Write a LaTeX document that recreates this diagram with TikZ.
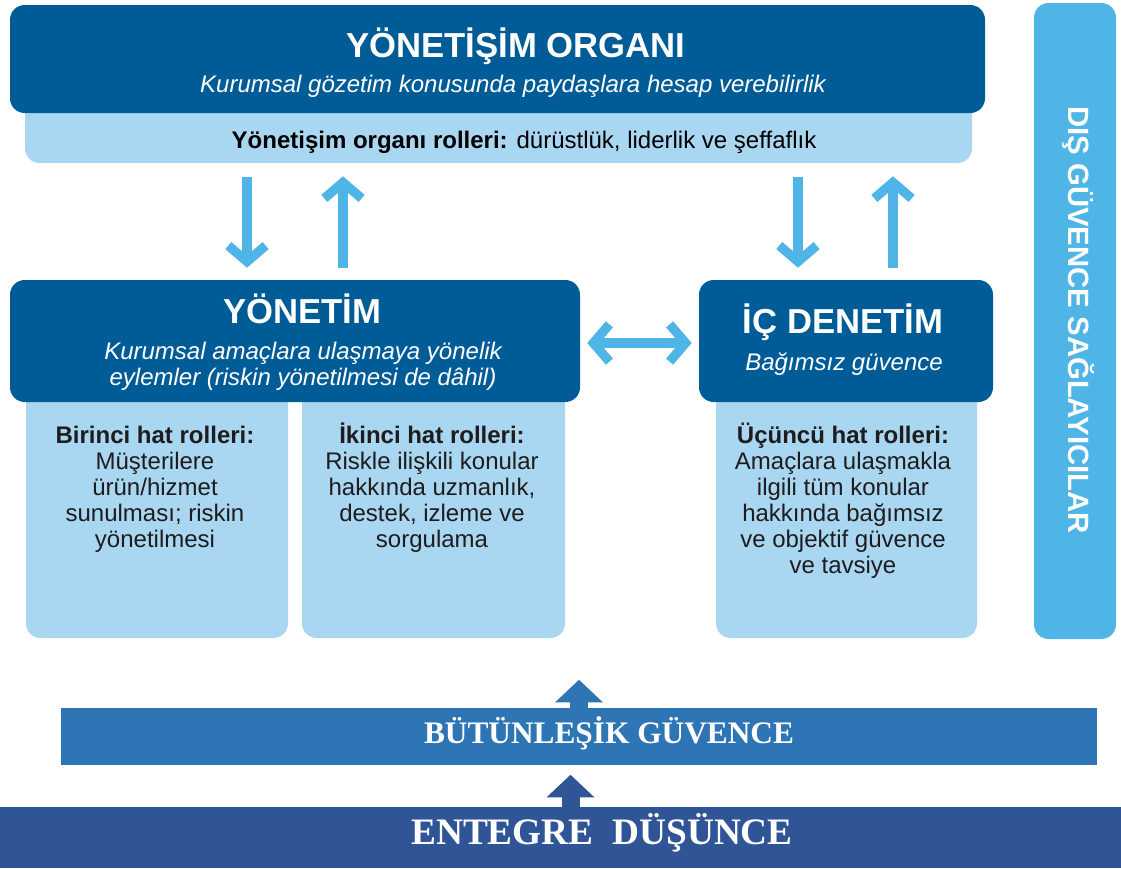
\documentclass[tikz,border=0pt]{standalone}
\usepackage{fontspec}
\setmainfont{Liberation Sans}
\newfontfamily\bandfont{Liberation Serif}
\usetikzlibrary{arrows.meta,calc}
\definecolor{orgblue}{RGB}{0,92,151}
\definecolor{paleblue}{RGB}{169,214,241}
\definecolor{skyblue}{RGB}{79,180,230}
\definecolor{midblue}{RGB}{46,117,182}
\definecolor{navyblue}{RGB}{47,85,151}
\definecolor{ink}{RGB}{30,28,28}
\begin{document}
\begin{tikzpicture}[x=0.75pt,y=-0.75pt,
    sz/.style 2 args={minimum width=#1*0.75pt,minimum height=#2*0.75pt,inner sep=0pt},
    darkbox/.style={fill=orgblue,rounded corners=11pt},
    palebox/.style={fill=paleblue,rounded corners=11pt},
    headline/.style={white,anchor=base,inner sep=0pt,font=\fontsize{26}{28}\selectfont\bfseries},
    subline/.style={white,anchor=base,inner sep=0pt,align=center,font=\fontsize{18}{19.5}\selectfont\itshape},
    roletext/.style={ink,anchor=base,inner sep=0pt,align=center,font=\fontsize{18}{19.5}\selectfont},
    flow/.style={draw=skyblue,line width=7.5pt,-{Straight Barb[length=12pt,width=28pt,line width=7pt]}},
    twoway/.style={draw=skyblue,line width=7.5pt,{Straight Barb[length=12pt,width=28pt,line width=7pt]}-{Straight Barb[length=12pt,width=28pt,line width=7pt]}},
    lift/.style={draw=#1,line width=13.5pt,-{Triangle[length=17pt,width=35pt]}}]
\useasboundingbox (0,0) rectangle (1121,868);

\node[palebox,sz={947}{73}] (band) at (498.5,126.5) {};
\node[darkbox,sz={975}{108}] (organ) at (497.5,59) {};
\node[palebox,sz={262}{258}] (first) at (157,509) {};
\node[palebox,sz={263}{258}] (second) at (433.5,509) {};
\node[palebox,sz={261}{258}] (third) at (846.5,509) {};
\node[darkbox,sz={570}{122}] (yon) at (295,341) {};
\node[darkbox,sz={294}{122}] (idn) at (846,341) {};
\node[fill=skyblue,rounded corners=11pt,sz={82}{636}] (dis) at (1075,321) {};
\node[fill=midblue,sz={1036}{57}] (butun) at (579,736.5) {};
\node[fill=navyblue,sz={1121}{61}] (ent) at (560.5,837.5) {};

\node[headline] (organT) at (516,57) {YÖNETİŞİM ORGANI};
\node[subline] (organS) at (513,92) {Kurumsal gözetim konusunda paydaşlara hesap verebilirlik};
\node[roletext,text=black] (bandT) at (524,148) {\textbf{Yönetişim organı rolleri:} dürüstlük, liderlik ve şeffaflık};
\node[headline] (yonT) at (302,323) {YÖNETİM};
\node[subline] (yonS) at (303,385) {Kurumsal amaçlara ulaşmaya yönelik\\eylemler (riskin yönetilmesi de dâhil)};
\node[headline] (idnT) at (843,333) {İÇ DENETİM};
\node[subline] (idnS) at (844,370) {Bağımsız güvence};
\node[roletext] (firstT) at (155,547) {\textbf{Birinci hat rolleri:}\\Müşterilere\\ürün/hizmet\\sunulması; riskin\\yönetilmesi};
\node[roletext] (secondT) at (432,547) {\textbf{İkinci hat rolleri:}\\Riskle ilişkili konular\\hakkında uzmanlık,\\destek, izleme ve\\sorgulama};
\node[roletext] (thirdT) at (843,573) {\textbf{Üçüncü hat rolleri:}\\Amaçlara ulaşmakla\\ilgili tüm konular\\hakkında bağımsız\\ve objektif güvence\\ve tavsiye};
\node[white,rotate=-90,font=\fontsize{22}{24}\selectfont\bfseries] (disT) at (1078,320) {DIŞ GÜVENCE SAĞLAYICILAR};
\node[white,font=\bandfont\fontsize{23.5}{25}\selectfont\bfseries] (butunT) at (609,733) {BÜTÜNLEŞİK GÜVENCE};
\node[white,font=\bandfont\fontsize{28}{30}\selectfont\bfseries] (entT) at (602,833) {ENTEGRE \ DÜŞÜNCE};

\draw[flow] ($(yon.north |- band.south)+(-48,14)$) -- ($(yon.north)+(-48,-12)$);
\draw[flow] ($(yon.north)+(48,-12)$) -- ($(yon.north |- band.south)+(48,13)$);
\draw[flow] ($(idn.north |- band.south)+(-48,14)$) -- ($(idn.north)+(-48,-12)$);
\draw[flow] ($(idn.north)+(47,-12)$) -- ($(idn.north |- band.south)+(47,13)$);
\draw[twoway] ($(yon.east)+(7,2)$) -- ($(idn.west)+(-7,2)$);
\draw[lift=midblue] (butun.north) -- ($(butun.north)+(0,-28)$);
\draw[lift=navyblue] ($(ent.north)+(10,0)$) -- ($(ent.north)+(10,-32)$);
\end{tikzpicture}
\end{document}
